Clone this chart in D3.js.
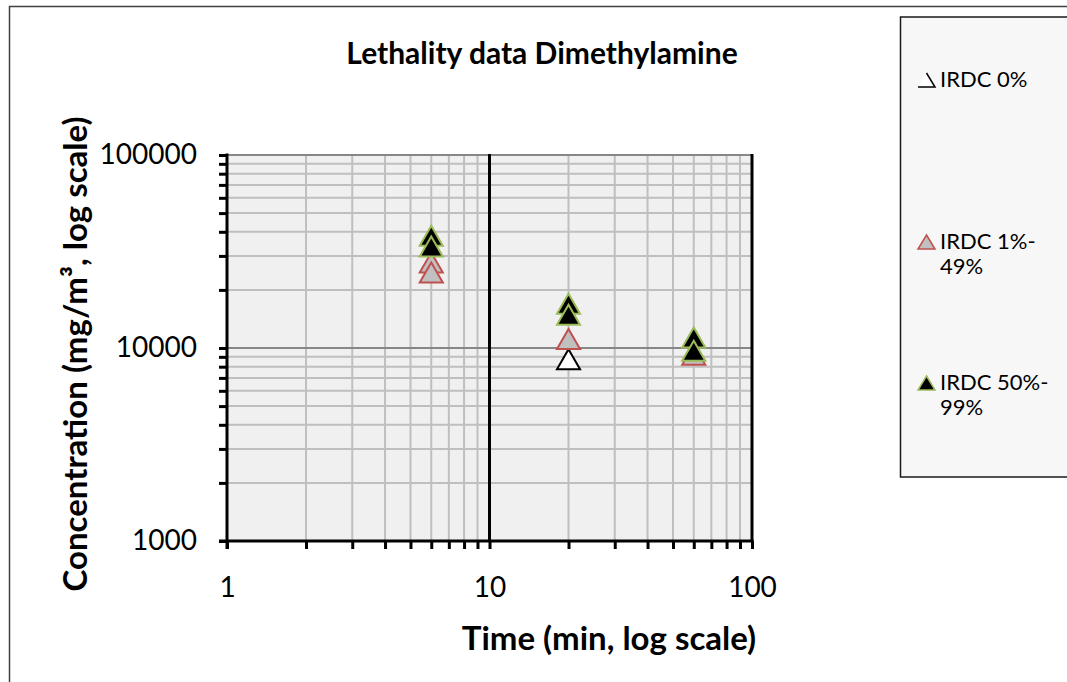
<!DOCTYPE html>
<html>
<head>
<meta charset="utf-8">
<script src="https://cdn.jsdelivr.net/npm/d3@7"></script>
<style>
    body { margin: 0; background: #ffffff; }
    svg text { font-family: Lato, "Open Sans", sans-serif; fill: #000; }
</style>
</head>
<body>
<div id="content"></div>
<script>
/*
    Data (time in min, concentration in mg/m3)
*/
var seriesNames = ["IRDC 0%", "IRDC 1%-49%", "IRDC 50%-99%"];
var time0 = [20];
var conc0 = [8700];
var time1 = [6, 6, 20, 60];
var conc1 = [27600, 24500, 11100, 9200];
var time2 = [6, 6, 20, 20, 60, 60];
var conc2 = [38000, 33400, 16900, 14800, 11300, 9650];
var xTicks = [1, 10, 100];
var yTicks = [1000, 10000, 100000];
/*
    Dimensions
*/
var realW = 1067, realH = 682;
var plot = { left: 227, right: 752, top: 155, bottom: 541 };

var svg = d3.select("#content")
    .append("svg")
    .attr("width", realW)
    .attr("height", realH);

var xScale = d3.scaleLog().domain([1, 100]).range([plot.left, plot.right]);
var yScale = d3.scaleLog().domain([1000, 100000]).range([plot.bottom, plot.top]);

/*
    outer chart frame, runs off the right and bottom edges
*/
svg.append("rect")
    .attr("x", 9.5).attr("y", 6.5)
    .attr("width", 1100).attr("height", 720)
    .style("fill", "#fff")
    .style("stroke", "#404040")
    .style("stroke-width", 1.5);

/*
    plot area + grid
*/
svg.append("rect")
    .attr("x", plot.left).attr("y", plot.top)
    .attr("width", plot.right - plot.left)
    .attr("height", plot.bottom - plot.top)
    .style("fill", "#f0f0f0");

function minorValues(lo, hi) {
    var out = [];
    for (var d = lo; d < hi; d *= 10) {
        for (var k = 2; k <= 9; k++) out.push(d * k);
    }
    return out;
}
var xMinor = minorValues(1, 100);
var yMinor = minorValues(1000, 100000);

var grid = svg.append("g").attr("id", "grid");
grid.selectAll(".vminor")
    .data(xMinor)
    .enter()
    .append("line")
    .attr("x1", function (d) { return xScale(d); })
    .attr("x2", function (d) { return xScale(d); })
    .attr("y1", plot.top).attr("y2", plot.bottom)
    .style("stroke", "#bfbfbf")
    .style("stroke-width", 2);
grid.selectAll(".hminor")
    .data(yMinor)
    .enter()
    .append("line")
    .attr("y1", function (d) { return yScale(d); })
    .attr("y2", function (d) { return yScale(d); })
    .attr("x1", plot.left).attr("x2", plot.right)
    .style("stroke", "#bfbfbf")
    .style("stroke-width", 2);
// major horizontal lines are mid gray
grid.selectAll(".hmajor")
    .data([10000, 100000])
    .enter()
    .append("line")
    .attr("y1", function (d) { return yScale(d); })
    .attr("y2", function (d) { return yScale(d); })
    .attr("x1", plot.left).attr("x2", plot.right)
    .style("stroke", "#878787")
    .style("stroke-width", 2);
// major vertical lines are black
grid.selectAll(".vmajor")
    .data([10, 100])
    .enter()
    .append("line")
    .attr("x1", function (d) { return xScale(d); })
    .attr("x2", function (d) { return xScale(d); })
    .attr("y1", plot.top - 1).attr("y2", plot.bottom)
    .style("stroke", "#000")
    .style("stroke-width", 3);

/*
    Axes
*/
var xAxis = d3.axisBottom(xScale)
    .tickValues(xTicks.concat(xMinor))
    .tickSize(8)
    .tickFormat(function (d) { return xTicks.indexOf(d) >= 0 ? d : ""; });
var yAxis = d3.axisLeft(yScale)
    .tickValues(yTicks.concat(yMinor))
    .tickSize(8)
    .tickFormat(function (d) { return yTicks.indexOf(d) >= 0 ? d : ""; });

var gx = svg.append("g")
    .attr("transform", "translate(0," + plot.bottom + ")")
    .call(xAxis);
var gy = svg.append("g")
    .attr("transform", "translate(" + plot.left + ",0)")
    .call(yAxis);

[gx, gy].forEach(function (g) {
    g.select(".domain").remove();
    g.selectAll(".tick line").style("stroke", "#000").style("stroke-width", 3);
    g.selectAll("text")
        .style("font-family", "Lato, sans-serif")
        .style("font-size", "28px")
        .style("fill", "#000");
});
gx.selectAll(".tick text").attr("y", 36);
gy.selectAll(".tick text").attr("x", -30);

// axis lines drawn over the ticks
svg.append("line")
    .attr("x1", plot.left - 8).attr("x2", plot.right + 1.5)
    .attr("y1", plot.bottom).attr("y2", plot.bottom)
    .style("stroke", "#000").style("stroke-width", 3);
svg.append("line")
    .attr("x1", plot.left).attr("x2", plot.left)
    .attr("y1", plot.top - 1.5).attr("y2", plot.bottom + 8)
    .style("stroke", "#000").style("stroke-width", 3);

/*
    Markers
*/
var tri = d3.symbol().type(d3.symbolTriangle).size(230);

function drawSeries(times, concs, fill, stroke) {
    svg.append("g")
        .selectAll("path")
        .data(times.map(function (t, i) { return [t, concs[i]]; }))
        .enter()
        .append("path")
        .attr("d", tri)
        .attr("transform", function (d) {
            return "translate(" + xScale(d[0]) + "," + (yScale(d[1]) + 3) + ")";
        })
        .style("fill", fill)
        .style("stroke", stroke)
        .style("stroke-width", 2);
}
drawSeries(time0, conc0, "#ffffff", "#000000");
drawSeries(time1, conc1, "#c0c0c0", "#c0504d");
drawSeries(time2, conc2, "#000000", "#9bbb59");

/*
    Titles
*/
svg.append("text")
    .attr("x", 542).attr("y", 64)
    .attr("text-anchor", "middle")
    .style("font-weight", "bold")
    .style("font-size", "30px")
    .text("Lethality data Dimethylamine");

svg.append("text")
    .attr("x", 609).attr("y", 650)
    .attr("text-anchor", "middle")
    .style("font-weight", "bold")
    .style("font-size", "33px")
    .text("Time (min, log scale)");

svg.append("text")
    .attr("transform", "translate(87," + 354 + ") rotate(-90)")
    .attr("text-anchor", "middle")
    .style("font-weight", "bold")
    .style("font-size", "33px")
    .text("Concentration (mg/m³, log scale)");

/*
    Legend
*/
svg.append("rect")
    .attr("x", 900.5).attr("y", 17)
    .attr("width", 200).attr("height", 460)
    .style("fill", "#f7f7f7")
    .style("stroke", "#1a1a1a")
    .style("stroke-width", 1.5);

var legendLines = [
    ["IRDC 0%"],
    ["IRDC 1%-", "49%"],
    ["IRDC 50%-", "99%"]
];
var legendY = [87, 249, 390];
var legendFill = ["#ffffff", "#c0c0c0", "#000000"];
var legendStroke = ["#000000", "#c0504d", "#9bbb59"];

var legend = svg.append("g").attr("id", "legend");
legendLines.forEach(function (lines, i) {
    var by = legendY[i];
    var d = "M926.5," + (by - 14) + "L935," + by + "L918," + by;
    legend.append("path")
        // the first key only shows its right edge and base
        .attr("d", i == 0 ? d : d + "Z")
        .style("fill", legendFill[i])
        .style("stroke", legendStroke[i])
        .style("stroke-width", 1.5);
    lines.forEach(function (t, j) {
        legend.append("text")
            .attr("x", 940)
            .attr("y", by + j * 25)
            .style("font-size", "22px")
            .text(t);
    });
});
</script>
</body>
</html>
